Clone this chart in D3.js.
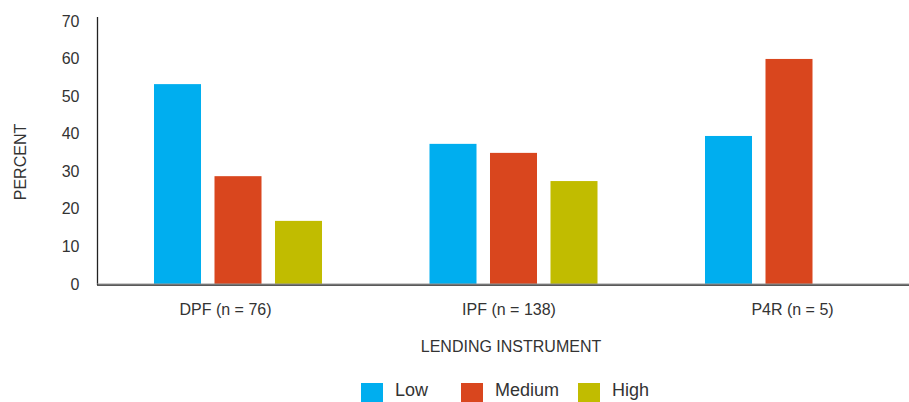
<!DOCTYPE html>
<html><head><meta charset="utf-8">
<script src="https://cdn.jsdelivr.net/npm/d3@7"></script>
<style>
html,body{margin:0;padding:0;background:#fff;}
text{font-family:"Liberation Sans",Arial,Helvetica,sans-serif;fill:#333;}
</style></head>
<body>
<svg id="chart" width="909" height="402"></svg>
<script>
const categories = ["DPF (n = 76)", "IPF (n = 138)", "P4R (n = 5)"];
const seriesNames = ["Low", "Medium", "High"];
const lowValues = [53.2, 37.3, 39.4];
const mediumValues = [28.7, 34.9, 59.9];
const highValues = [16.8, 27.4, 0];
const yTicks = [0, 10, 20, 30, 40, 50, 60, 70];
const colors = ["#00AEEF", "#D9461E", "#C1BC00"];
const xTitle = "LENDING INSTRUMENT";
const yTitle = "PERCENT";

const seriesValues = [lowValues, mediumValues, highValues];
const svg = d3.select("#chart");

const x0 = d3.scaleBand().domain(categories).range([100.25, 926.75]).padding(0);
const inner = d3.scaleBand().domain(seriesNames)
  .range([(x0.bandwidth() - 181.5) / 2, (x0.bandwidth() + 181.5) / 2])
  .paddingInner(0.223).paddingOuter(0.1115);
const y = d3.scaleLinear().domain([0, 70]).range([284, 21]);
const color = d3.scaleOrdinal().domain(seriesNames).range(colors);
// label positions (the reference labels sit slightly off the bar groups)
const xLabel = d3.scalePoint().domain(categories).range([225, 792]);

// bars
categories.forEach((c, ci) => {
  const g = svg.append("g").attr("transform", `translate(${x0(c)},0)`);
  g.selectAll("rect")
    .data(seriesNames.map((s, si) => ({ s, v: seriesValues[si][ci] })).filter(d => d.v > 0))
    .join("rect")
    .attr("x", d => inner(d.s))
    .attr("width", inner.bandwidth())
    .attr("y", d => y(d.v))
    .attr("height", d => y(0) - y(d.v))
    .attr("fill", d => color(d.s));
});

// y axis
const yAxis = d3.axisLeft(y).tickValues(yTicks).tickSize(0).tickPadding(18);
const yg = svg.append("g").attr("transform", "translate(97.5,0)").call(yAxis);
yg.select(".domain").remove();
yg.selectAll("text").style("font-size", "16px").style("font-family", "'Liberation Sans',Arial,sans-serif").attr("fill", "#333");
svg.append("line").attr("x1", 97.5).attr("x2", 97.5).attr("y1", 17).attr("y2", 285)
  .attr("stroke", "#222").attr("stroke-width", 1.3);

// x axis
const xAxis = d3.axisBottom(xLabel).tickSize(0).tickPadding(20);
const xg = svg.append("g").attr("transform", "translate(0,284)").call(xAxis);
xg.select(".domain").remove();
xg.selectAll("text").style("font-size", "16px").style("font-family", "'Liberation Sans',Arial,sans-serif").attr("fill", "#333");
svg.append("line").attr("x1", 97).attr("x2", 909).attr("y1", 284).attr("y2", 284)
  .attr("stroke", "#999").attr("stroke-width", 1);
svg.append("line").attr("x1", 97).attr("x2", 909).attr("y1", 285.2).attr("y2", 285.2)
  .attr("stroke", "#222").attr("stroke-width", 1.3);

// titles
svg.append("text").attr("x", 511).attr("y", 352).attr("text-anchor", "middle")
  .style("font-size", "16px").text(xTitle);
svg.append("text").attr("transform", "translate(26,162) rotate(-90)").attr("text-anchor", "middle")
  .style("font-size", "16px").text(yTitle);

// legend
const legendX = [361, 461, 578];
const lg = svg.append("g");
seriesNames.forEach((s, i) => {
  lg.append("rect").attr("x", legendX[i]).attr("y", 383).attr("width", 22).attr("height", 22).attr("fill", color(s));
  lg.append("text").attr("x", legendX[i] + 34).attr("y", 396).style("font-size", "18px").text(s);
});
</script>
</body></html>
